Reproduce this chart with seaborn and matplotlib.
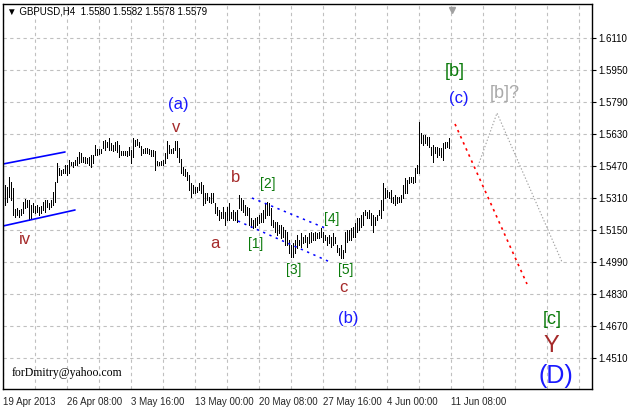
import matplotlib
matplotlib.use("Agg")
import matplotlib.pyplot as plt
import matplotlib.transforms as mtransforms
import numpy as np
import pandas as pd
import seaborn as sns

# ---------------- data (GBPUSD H4 bars) ----------------
bar_high = [
    1.5375, 1.5365, 1.5415, 1.5390, 1.5360, 1.5255, 1.5260, 1.5250, 1.5255, 1.5290,
    1.5305, 1.5300, 1.5300, 1.5275, 1.5285, 1.5270, 1.5275, 1.5265, 1.5270, 1.5290,
    1.5300, 1.5300, 1.5285, 1.5300, 1.5340, 1.5390, 1.5485, 1.5460, 1.5450, 1.5455,
    1.5475, 1.5475, 1.5500, 1.5490, 1.5490, 1.5500, 1.5515, 1.5540, 1.5535, 1.5515,
    1.5515, 1.5510, 1.5515, 1.5525, 1.5525, 1.5575, 1.5555, 1.5555, 1.5555, 1.5595,
    1.5600, 1.5590, 1.5610, 1.5585, 1.5575, 1.5590, 1.5595, 1.5575, 1.5545, 1.5545,
    1.5545, 1.5545, 1.5565, 1.5550, 1.5610, 1.5600, 1.5605, 1.5590, 1.5570, 1.5555,
    1.5560, 1.5560, 1.5555, 1.5550, 1.5550, 1.5545, 1.5495, 1.5490, 1.5495, 1.5500,
    1.5535, 1.5595, 1.5575, 1.5555, 1.5560, 1.5595, 1.5595, 1.5560, 1.5505, 1.5465,
    1.5455, 1.5440, 1.5425, 1.5385, 1.5375, 1.5365, 1.5365, 1.5385, 1.5390, 1.5375,
    1.5335, 1.5335, 1.5315, 1.5335, 1.5335, 1.5285, 1.5265, 1.5250, 1.5240, 1.5265,
    1.5240, 1.5265, 1.5285, 1.5240, 1.5250, 1.5240, 1.5250, 1.5325, 1.5310, 1.5300,
    1.5275, 1.5265, 1.5260, 1.5210, 1.5200, 1.5210, 1.5215, 1.5225, 1.5235, 1.5250,
    1.5285, 1.5290, 1.5285, 1.5260, 1.5200, 1.5190, 1.5190, 1.5175, 1.5175, 1.5165,
    1.5150, 1.5140, 1.5100, 1.5075, 1.5085, 1.5100, 1.5125, 1.5100, 1.5135, 1.5115,
    1.5125, 1.5115, 1.5135, 1.5140, 1.5135, 1.5140, 1.5135, 1.5140, 1.5160, 1.5140,
    1.5125, 1.5115, 1.5125, 1.5115, 1.5135, 1.5115, 1.5075, 1.5060, 1.5075, 1.5050,
    1.5140, 1.5150, 1.5150, 1.5160, 1.5165, 1.5185, 1.5210, 1.5210, 1.5225, 1.5240,
    1.5250, 1.5240, 1.5250, 1.5235, 1.5225, 1.5215, 1.5225, 1.5250, 1.5300, 1.5385,
    1.5360, 1.5350, 1.5340, 1.5350, 1.5315, 1.5325, 1.5315, 1.5315, 1.5325, 1.5375,
    1.5410, 1.5400, 1.5415, 1.5415, 1.5415, 1.5460, 1.5475, 1.5690, 1.5635, 1.5625,
    1.5625, 1.5615, 1.5615, 1.5565, 1.5575, 1.5565, 1.5565, 1.5560, 1.5560, 1.5585,
    1.5590, 1.5590, 1.5610, 1.5582,
]
bar_low = [
    1.5275, 1.5290, 1.5315, 1.5300, 1.5225, 1.5215, 1.5225, 1.5215, 1.5225, 1.5235,
    1.5260, 1.5265, 1.5200, 1.5210, 1.5240, 1.5235, 1.5240, 1.5225, 1.5235, 1.5250,
    1.5240, 1.5265, 1.5255, 1.5265, 1.5275, 1.5290, 1.5390, 1.5425, 1.5425, 1.5435,
    1.5435, 1.5425, 1.5435, 1.5475, 1.5465, 1.5475, 1.5475, 1.5485, 1.5490, 1.5490,
    1.5485, 1.5485, 1.5475, 1.5465, 1.5485, 1.5525, 1.5525, 1.5530, 1.5535, 1.5560,
    1.5550, 1.5565, 1.5550, 1.5550, 1.5545, 1.5550, 1.5540, 1.5515, 1.5525, 1.5525,
    1.5525, 1.5520, 1.5525, 1.5485, 1.5515, 1.5570, 1.5575, 1.5565, 1.5525, 1.5535,
    1.5535, 1.5535, 1.5530, 1.5520, 1.5520, 1.5450, 1.5475, 1.5475, 1.5475, 1.5475,
    1.5485, 1.5510, 1.5535, 1.5535, 1.5535, 1.5550, 1.5515, 1.5490, 1.5435, 1.5425,
    1.5420, 1.5400, 1.5350, 1.5315, 1.5335, 1.5335, 1.5340, 1.5350, 1.5335, 1.5275,
    1.5285, 1.5300, 1.5290, 1.5285, 1.5290, 1.5235, 1.5225, 1.5200, 1.5210, 1.5210,
    1.5175, 1.5200, 1.5200, 1.5210, 1.5200, 1.5200, 1.5190, 1.5260, 1.5250, 1.5240,
    1.5225, 1.5225, 1.5175, 1.5165, 1.5160, 1.5165, 1.5175, 1.5185, 1.5190, 1.5190,
    1.5210, 1.5225, 1.5225, 1.5175, 1.5165, 1.5140, 1.5125, 1.5135, 1.5110, 1.5115,
    1.5075, 1.5075, 1.5035, 1.5015, 1.5015, 1.5035, 1.5060, 1.5075, 1.5065, 1.5085,
    1.5090, 1.5065, 1.5085, 1.5090, 1.5100, 1.5100, 1.5110, 1.5110, 1.5115, 1.5090,
    1.5100, 1.5075, 1.5085, 1.5065, 1.5075, 1.5085, 1.5040, 1.5025, 1.5010, 1.5010,
    1.5040, 1.5090, 1.5100, 1.5100, 1.5115, 1.5115, 1.5140, 1.5150, 1.5165, 1.5175,
    1.5225, 1.5210, 1.5210, 1.5175, 1.5140, 1.5175, 1.5200, 1.5225, 1.5210, 1.5250,
    1.5310, 1.5315, 1.5310, 1.5290, 1.5285, 1.5275, 1.5285, 1.5290, 1.5290, 1.5310,
    1.5335, 1.5335, 1.5385, 1.5390, 1.5385, 1.5390, 1.5435, 1.5435, 1.5585, 1.5575,
    1.5585, 1.5575, 1.5565, 1.5525, 1.5490, 1.5535, 1.5515, 1.5525, 1.5515, 1.5500,
    1.5560, 1.5565, 1.5560, 1.5578,
]
x_tick_bars = [-1, 31, 63, 95, 127, 159, 191, 223]
x_tick_labels = ["19 Apr 2013", "26 Apr 08:00", "3 May 16:00", "13 May 00:00",
                 "20 May 08:00", "27 May 16:00", "4 Jun 00:00", "11 Jun 08:00"]
y_tick_values = [1.4510, 1.4670, 1.4830, 1.4990, 1.5150, 1.5310, 1.5470,
                 1.5630, 1.5790, 1.5950, 1.6110]
header_text = "\u25BC GBPUSD,H4  1.5580 1.5582 1.5578 1.5579"

# wave labels: (text, bar position, price, color, size)
BROWN, GREEN, BLUE, GRAY = "#A52A2A", "#0B7A0B", "#1A1AFF", "#A9A9A9"
wave_labels = [
    ("iv", 10, 1.5100, BROWN, 12),
    ("v", 85.5, 1.5662, BROWN, 12),
    ("(a)", 86.5, 1.5780, BLUE, 12),
    ("a", 105, 1.5085, BROWN, 12),
    ("b", 115.5, 1.5410, BROWN, 12),
    ("[1]", 125.5, 1.5080, GREEN, 10),
    ("[2]", 131.5, 1.5380, GREEN, 10),
    ("[3]", 144.5, 1.4950, GREEN, 10),
    ("[4]", 163.5, 1.5205, GREEN, 10),
    ("[5]", 170.5, 1.4950, GREEN, 10),
    ("c", 169, 1.4862, BROWN, 12),
    ("(b)", 171.5, 1.4710, BLUE, 12),
    ("[b]", 225, 1.5940, GREEN, 13),
    ("(c)", 227, 1.5805, BLUE, 12),
    ("[b]?", 250, 1.5830, GRAY, 13),
    ("[c]", 273.5, 1.4700, GREEN, 13),
    ("Y", 273, 1.4568, BROWN, 17),
    ("(D)", 275.5, 1.4420, BLUE, 18),
]

# ---------------- figure ----------------
sns.set_style("white")
plt.rcParams["font.family"] = ["Liberation Sans", "DejaVu Sans"]

fig = plt.figure(figsize=(6.29, 4.08), dpi=100)
fig.patch.set_facecolor("white")
ax = fig.add_axes([3 / 629, 19 / 408, 589 / 629, 385 / 408])

n = len(bar_high)
bars = list(range(n))
df = pd.DataFrame({
    "bar": bars + bars,
    "price": bar_low + bar_high,
})
sns.lineplot(data=df, x="bar", y="price", units="bar", estimator=None,
             color="black", linewidth=0.72, sort=False, legend=False, ax=ax,
             antialiased=False, solid_capstyle="butt")

ax.set_xlim(-1, 293.5)
ax.set_ylim(1.4355, 1.6280)

# grid
ax.set_xticks(x_tick_bars)
ax.set_xticklabels(x_tick_labels, ha="left")
ax.set_xticks(np.arange(-1, 293, 16), minor=True)
ax.set_yticks(y_tick_values)
ax.set_yticklabels([f"{v:.4f}" for v in y_tick_values])
ax.grid(True, which="both", color="#C0C0C0", linestyle=(0, (3, 3)), linewidth=0.8)
ax.set_axisbelow(True)
ax.yaxis.tick_right()
ax.tick_params(axis="y", direction="out", length=3, pad=1.5, labelsize=7,
               colors="black", width=0.8)
ax.tick_params(axis="x", which="major", direction="out", length=4, pad=1.5,
               labelsize=7, width=0.8)
ax.tick_params(axis="x", which="minor", length=0)
for lab in ax.get_xticklabels():
    lab.set_horizontalalignment("left")
for s in ax.spines.values():
    s.set_color("black")
    s.set_linewidth(1.0)
ax.set_xlabel("")
ax.set_ylabel("")

# channel and projection lines
ax.plot([-1, 30], [1.5480, 1.5540], color="#0000FF", lw=1.2)
ax.plot([-1, 35], [1.5170, 1.5250], color="#0000FF", lw=1.2)
ax.plot([123.5, 160], [1.5310, 1.5160], color="#0000FF", lw=1.1, linestyle=(0, (1.5, 3)))
ax.plot([116.5, 162.5], [1.5195, 1.4990], color="#0000FF", lw=1.1, linestyle=(0, (1.5, 3)))
ax.plot([225, 261], [1.5680, 1.4880], color="#FF0000", lw=1.2, linestyle=(0, (1.5, 2.5)))
ax.plot([236.5, 246, 278.5], [1.5470, 1.5735, 1.4990], color="#A0A0A0", lw=0.8,
        linestyle=(0, (1.2, 1.8)))

# chart-shift marker at the top
trans = mtransforms.blended_transform_factory(ax.transData, ax.transAxes)
ax.plot([223.5], [0.985], marker="v", color="#A0A0A0", markersize=5, transform=trans,
        clip_on=False)

for txt, xb, yp, col, sz in wave_labels:
    ax.text(xb, yp, txt, color=col, fontsize=sz, ha="center", va="center")

ax.text(3.5, 1.4435, "forDmitry@yahoo.com", fontsize=8.5, ha="left", va="center",
        family=["Liberation Serif", "DejaVu Serif"], color="black")

fig.text(7 / 629, 1 - 11 / 408, header_text, fontsize=7, ha="left", va="center",
         color="black")

fig.savefig("out.png", dpi=100)
